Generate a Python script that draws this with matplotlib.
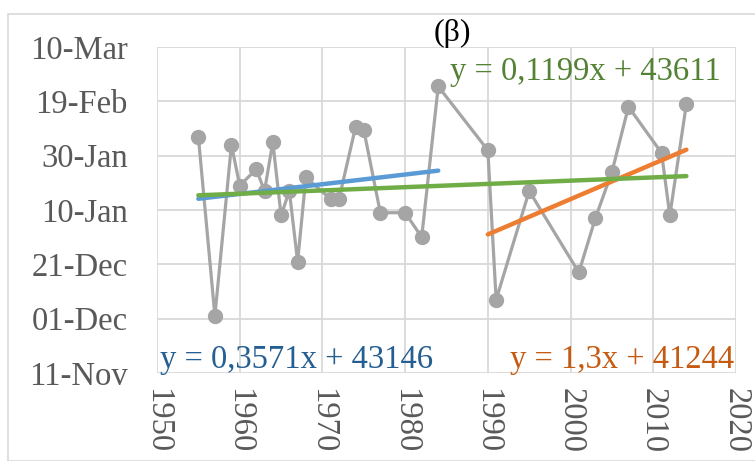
import matplotlib
matplotlib.use("Agg")
import matplotlib.pyplot as plt
from matplotlib.ticker import FuncFormatter, FixedLocator
from matplotlib.patches import Rectangle
import datetime as dt
import numpy as np

# Data: years and dates as Excel serial numbers
years = [1955, 1957, 1959, 1960, 1962, 1963, 1964, 1965, 1966, 1967, 1968,
         1971, 1972, 1974, 1975, 1977, 1980, 1982, 1984,
         1990, 1991, 1995, 2001, 2003, 2005, 2007, 2011, 2012, 2014]
dates = [43867, 43801, 43864, 43849, 43855, 43847, 43865, 43838, 43847, 43821, 43852,
         43844, 43844, 43870.5, 43869.5, 43839, 43839, 43830, 43885.5,
         43862, 43807, 43847, 43817, 43837, 43854, 43878, 43861, 43838, 43879]

# Trendlines (slope, intercept, x-start, x-end)
trend_all = (0.1199, 43611, 1955, 2014)
trend_early = (0.3571, 43146, 1955, 1984)
trend_late = (1.3, 41244, 1990, 2014)

title = "(β)"
y_ticks = [43780, 43800, 43820, 43840, 43860, 43880, 43900]
x_ticks = [1950, 1960, 1970, 1980, 1990, 2000, 2010, 2020]

FONT = ["Liberation Serif", "DejaVu Serif"]
plt.rcParams["font.family"] = FONT

fig = plt.figure(figsize=(7.55, 4.61), dpi=100)
W, H = 755, 461
ax = fig.add_axes([157 / W, 1 - 373 / H, (736 - 157) / W, (373 - 47) / H])

# chart border
fig.patches.append(Rectangle((8 / W, 0), 1.0, 1 - 14 / H, transform=fig.transFigure,
                             fill=False, edgecolor="#D9D9D9", linewidth=1.2))

ax.plot(years, dates, color="#A5A5A5", linewidth=2.3, marker="o", markersize=10,
        markerfacecolor="#A5A5A5", markeredgecolor="#A5A5A5", zorder=3)

for (m, b, x0, x1), col in [(trend_early, "#5B9BD5"), (trend_late, "#ED7D31"),
                             (trend_all, "#70AD47")]:
    xs = np.array([x0, x1])
    ax.plot(xs, m * xs + b, color=col, linewidth=3.2, solid_capstyle="round", zorder=4)

ax.set_xlim(1950, 2020)
ax.set_ylim(43780, 43900)
ax.xaxis.set_major_locator(FixedLocator(x_ticks))
ax.yaxis.set_major_locator(FixedLocator(y_ticks))

base = dt.datetime(1899, 12, 30)
ax.yaxis.set_major_formatter(FuncFormatter(
    lambda v, p: (base + dt.timedelta(days=float(v))).strftime("%d-%b")))

ax.grid(True, color="#D9D9D9", linewidth=1.3, zorder=0)
ax.set_axisbelow(True)
for s in ax.spines.values():
    s.set_visible(False)
ax.tick_params(length=0, labelsize=23.5, labelcolor="#595959")
ax.tick_params(axis="y", pad=21)
ax.tick_params(axis="x", pad=11)
for lab in ax.get_xticklabels():
    lab.set_rotation(-90)
    lab.set_va("top")
    lab.set_ha("center")

fig.text(452 / W, 1 - 33 / H, title, ha="center", va="center", fontsize=23, color="black")

def eq(m, b):
    ms = f"{m:g}".replace(".", ",")
    return f"y = {ms}x + {b}"

fig.text(450 / W, 1 - 72 / H, eq(*trend_all[:2]), ha="left", va="center",
         fontsize=23.5, color="#548235")
fig.text(160 / W, 1 - 360 / H, eq(*trend_early[:2]), ha="left", va="center",
         fontsize=23.5, color="#255E91")
fig.text(510 / W, 1 - 360 / H, eq(*trend_late[:2]), ha="left", va="center",
         fontsize=23.5, color="#C55A11")

fig.savefig("out.png", dpi=100)
